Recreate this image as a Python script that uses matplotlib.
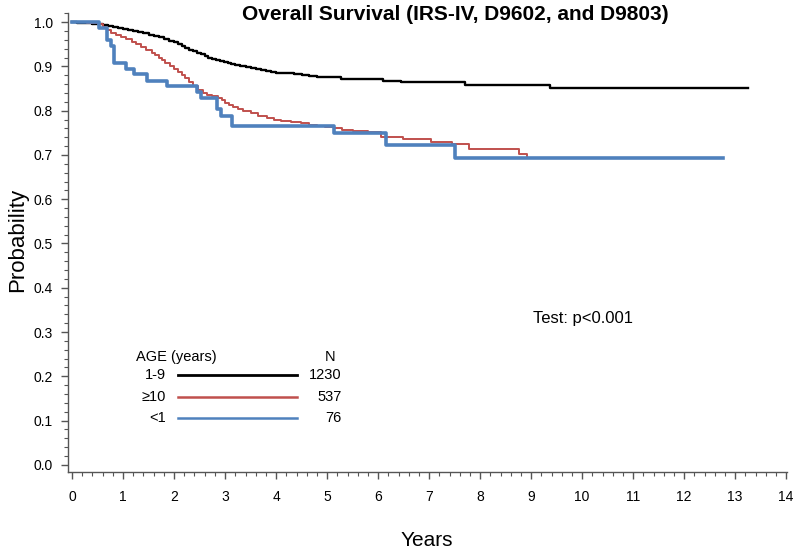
#!/usr/bin/env python3
"""
Kaplan-Meier style overall survival chart by age group
"""

import matplotlib
matplotlib.use('Agg')
import matplotlib.pyplot as plt
from matplotlib.ticker import MultipleLocator, FormatStrFormatter
import matplotlib.lines as mlines

plt.rcParams['font.family'] = ['Liberation Sans', 'DejaVu Sans']

# Survival data (years, probability)
age_1_9_years = [0.00, 0.10, 0.20, 0.30, 0.40, 0.50, 0.60, 0.70, 0.80, 0.90,
                 1.00, 1.10, 1.20, 1.30, 1.40, 1.50, 1.60, 1.70, 1.80, 1.90,
                 2.00, 2.07, 2.15, 2.22, 2.30, 2.37, 2.45, 2.52, 2.60, 2.67,
                 2.75, 2.82, 2.90, 2.97, 3.05, 3.12, 3.20, 3.30, 3.40, 3.50,
                 3.60, 3.70, 3.80, 3.90, 4.00, 4.10, 4.20, 4.35, 4.50, 4.65,
                 4.80, 5.00, 5.27, 5.80, 6.10, 6.45, 7.70, 9.37, 13.25]
age_1_9_prob = [1.000, 0.999, 0.998, 0.997, 0.996, 0.995, 0.993, 0.991, 0.989, 0.987,
                0.985, 0.983, 0.980, 0.978, 0.975, 0.972, 0.969, 0.966, 0.962, 0.958,
                0.954, 0.950, 0.946, 0.942, 0.937, 0.934, 0.930, 0.927, 0.923, 0.920,
                0.917, 0.914, 0.912, 0.909, 0.907, 0.905, 0.903, 0.900, 0.898, 0.896,
                0.893, 0.891, 0.889, 0.887, 0.886, 0.885, 0.884, 0.882, 0.880, 0.879,
                0.877, 0.875, 0.872, 0.871, 0.868, 0.865, 0.857, 0.852, 0.852]

age_10_years = [0.00, 0.30, 0.50, 0.60, 0.68, 0.77, 0.86, 0.95, 1.06, 1.17,
                1.26, 1.35, 1.45, 1.56, 1.63, 1.70, 1.76, 1.82, 1.91, 2.00,
                2.08, 2.15, 2.22, 2.30, 2.38, 2.47, 2.56, 2.65, 2.75, 2.86,
                2.93, 3.00, 3.08, 3.16, 3.25, 3.35, 3.50, 3.65, 3.82, 3.95,
                4.10, 4.30, 4.48, 4.65, 4.80, 4.95, 5.13, 5.30, 5.50, 5.65,
                5.80, 6.06, 6.49, 7.04, 7.44, 7.79, 8.76, 8.92, 12.76]
age_10_prob = [1.000, 0.998, 0.995, 0.988, 0.982, 0.976, 0.971, 0.966, 0.961, 0.955,
               0.950, 0.944, 0.937, 0.930, 0.925, 0.920, 0.914, 0.908, 0.901, 0.894,
               0.888, 0.881, 0.873, 0.864, 0.856, 0.847, 0.841, 0.836, 0.832, 0.828,
               0.823, 0.818, 0.813, 0.808, 0.804, 0.800, 0.795, 0.789, 0.783, 0.780,
               0.777, 0.774, 0.772, 0.768, 0.765, 0.762, 0.760, 0.757, 0.755, 0.753,
               0.751, 0.741, 0.735, 0.729, 0.724, 0.714, 0.703, 0.694, 0.694]

age_lt1_years = [0.00, 0.53, 0.69, 0.76, 0.83, 1.06, 1.22, 1.46, 1.87, 2.45,
                 2.52, 2.84, 2.92, 3.13, 5.13, 6.15, 7.50, 12.76]
age_lt1_prob = [1.000, 0.986, 0.960, 0.947, 0.908, 0.895, 0.882, 0.868, 0.855, 0.842,
                0.829, 0.803, 0.789, 0.766, 0.749, 0.722, 0.694, 0.694]

group_labels = ['1-9', '≥10', '<1']
group_n = ['1230', '537', '76']

black = '#000000'
red = '#C0504D'
blue = '#4F81BD'
axis_gray = '#555555'

fig = plt.figure(figsize=(8, 5.52), dpi=100)
ax = fig.add_axes([0.085, 0.145, 0.899, 0.831])

ax.step(age_1_9_years, age_1_9_prob, where='post', color=black, lw=1.7)
ax.step(age_10_years, age_10_prob, where='post', color=red, lw=1.4)
ax.step(age_lt1_years, age_lt1_prob, where='post', color=blue, lw=2.6)

ax.set_xlim(-0.08, 14.02)
ax.set_ylim(-0.016, 1.02)

ax.set_xticks(range(0, 15))
ax.xaxis.set_minor_locator(MultipleLocator(0.2))
ax.set_yticks([i / 10 for i in range(0, 11)])
ax.yaxis.set_major_formatter(FormatStrFormatter('%.1f'))
ax.yaxis.set_minor_locator(MultipleLocator(0.02))

for side in ['top', 'right']:
    ax.spines[side].set_visible(False)
for side in ['left', 'bottom']:
    ax.spines[side].set_color(axis_gray)
    ax.spines[side].set_linewidth(1.0)

ax.tick_params(axis='x', which='major', direction='out', length=5, width=1,
               color=axis_gray, labelsize=10, pad=8)
ax.tick_params(axis='x', which='minor', direction='out', length=3, width=0.8,
               color=axis_gray)
ax.tick_params(axis='y', which='major', direction='out', length=5, width=1,
               color=axis_gray, labelsize=10, pad=6)
ax.tick_params(axis='y', which='minor', direction='out', length=3, width=0.8,
               color=axis_gray)

# Axis labels placed by pixel position
fig.text(18 / 800, 1 - 240 / 552, 'Probability', rotation=90, fontsize=16,
         ha='center', va='center')
fig.text(427 / 800, 1 - 540 / 552, 'Years', fontsize=15, ha='center', va='center')

# Title
fig.text(455 / 800, 1 - 14 / 552, 'Overall Survival (IRS-IV, D9602, and D9803)',
         fontsize=15, fontweight='bold', ha='center', va='center')

# Test annotation
fig.text(533 / 800, 1 - 318 / 552, 'Test: p<0.001', fontsize=12,
         ha='left', va='center')

# Hand-built legend
fig.text(136 / 800, 1 - 357 / 552, 'AGE (years)', fontsize=10.5, ha='left', va='center')
fig.text(330 / 800, 1 - 357 / 552, 'N', fontsize=10.5, ha='center', va='center')

legend_rows = [375, 397, 418]
legend_colors = [black, red, blue]
legend_widths = [2.0, 1.8, 1.8]
for label, n, row, col, lw in zip(group_labels, group_n, legend_rows,
                                  legend_colors, legend_widths):
    yf = 1 - row / 552
    fig.text(166 / 800, yf, label, fontsize=10.5, ha='right', va='center')
    fig.add_artist(mlines.Line2D([178 / 800, 297 / 800], [yf, yf],
                                 color=col, lw=lw))
    fig.text(342 / 800, yf, n, fontsize=10.5, ha='right', va='center')

plt.savefig('out.png', dpi=100, facecolor='white')
